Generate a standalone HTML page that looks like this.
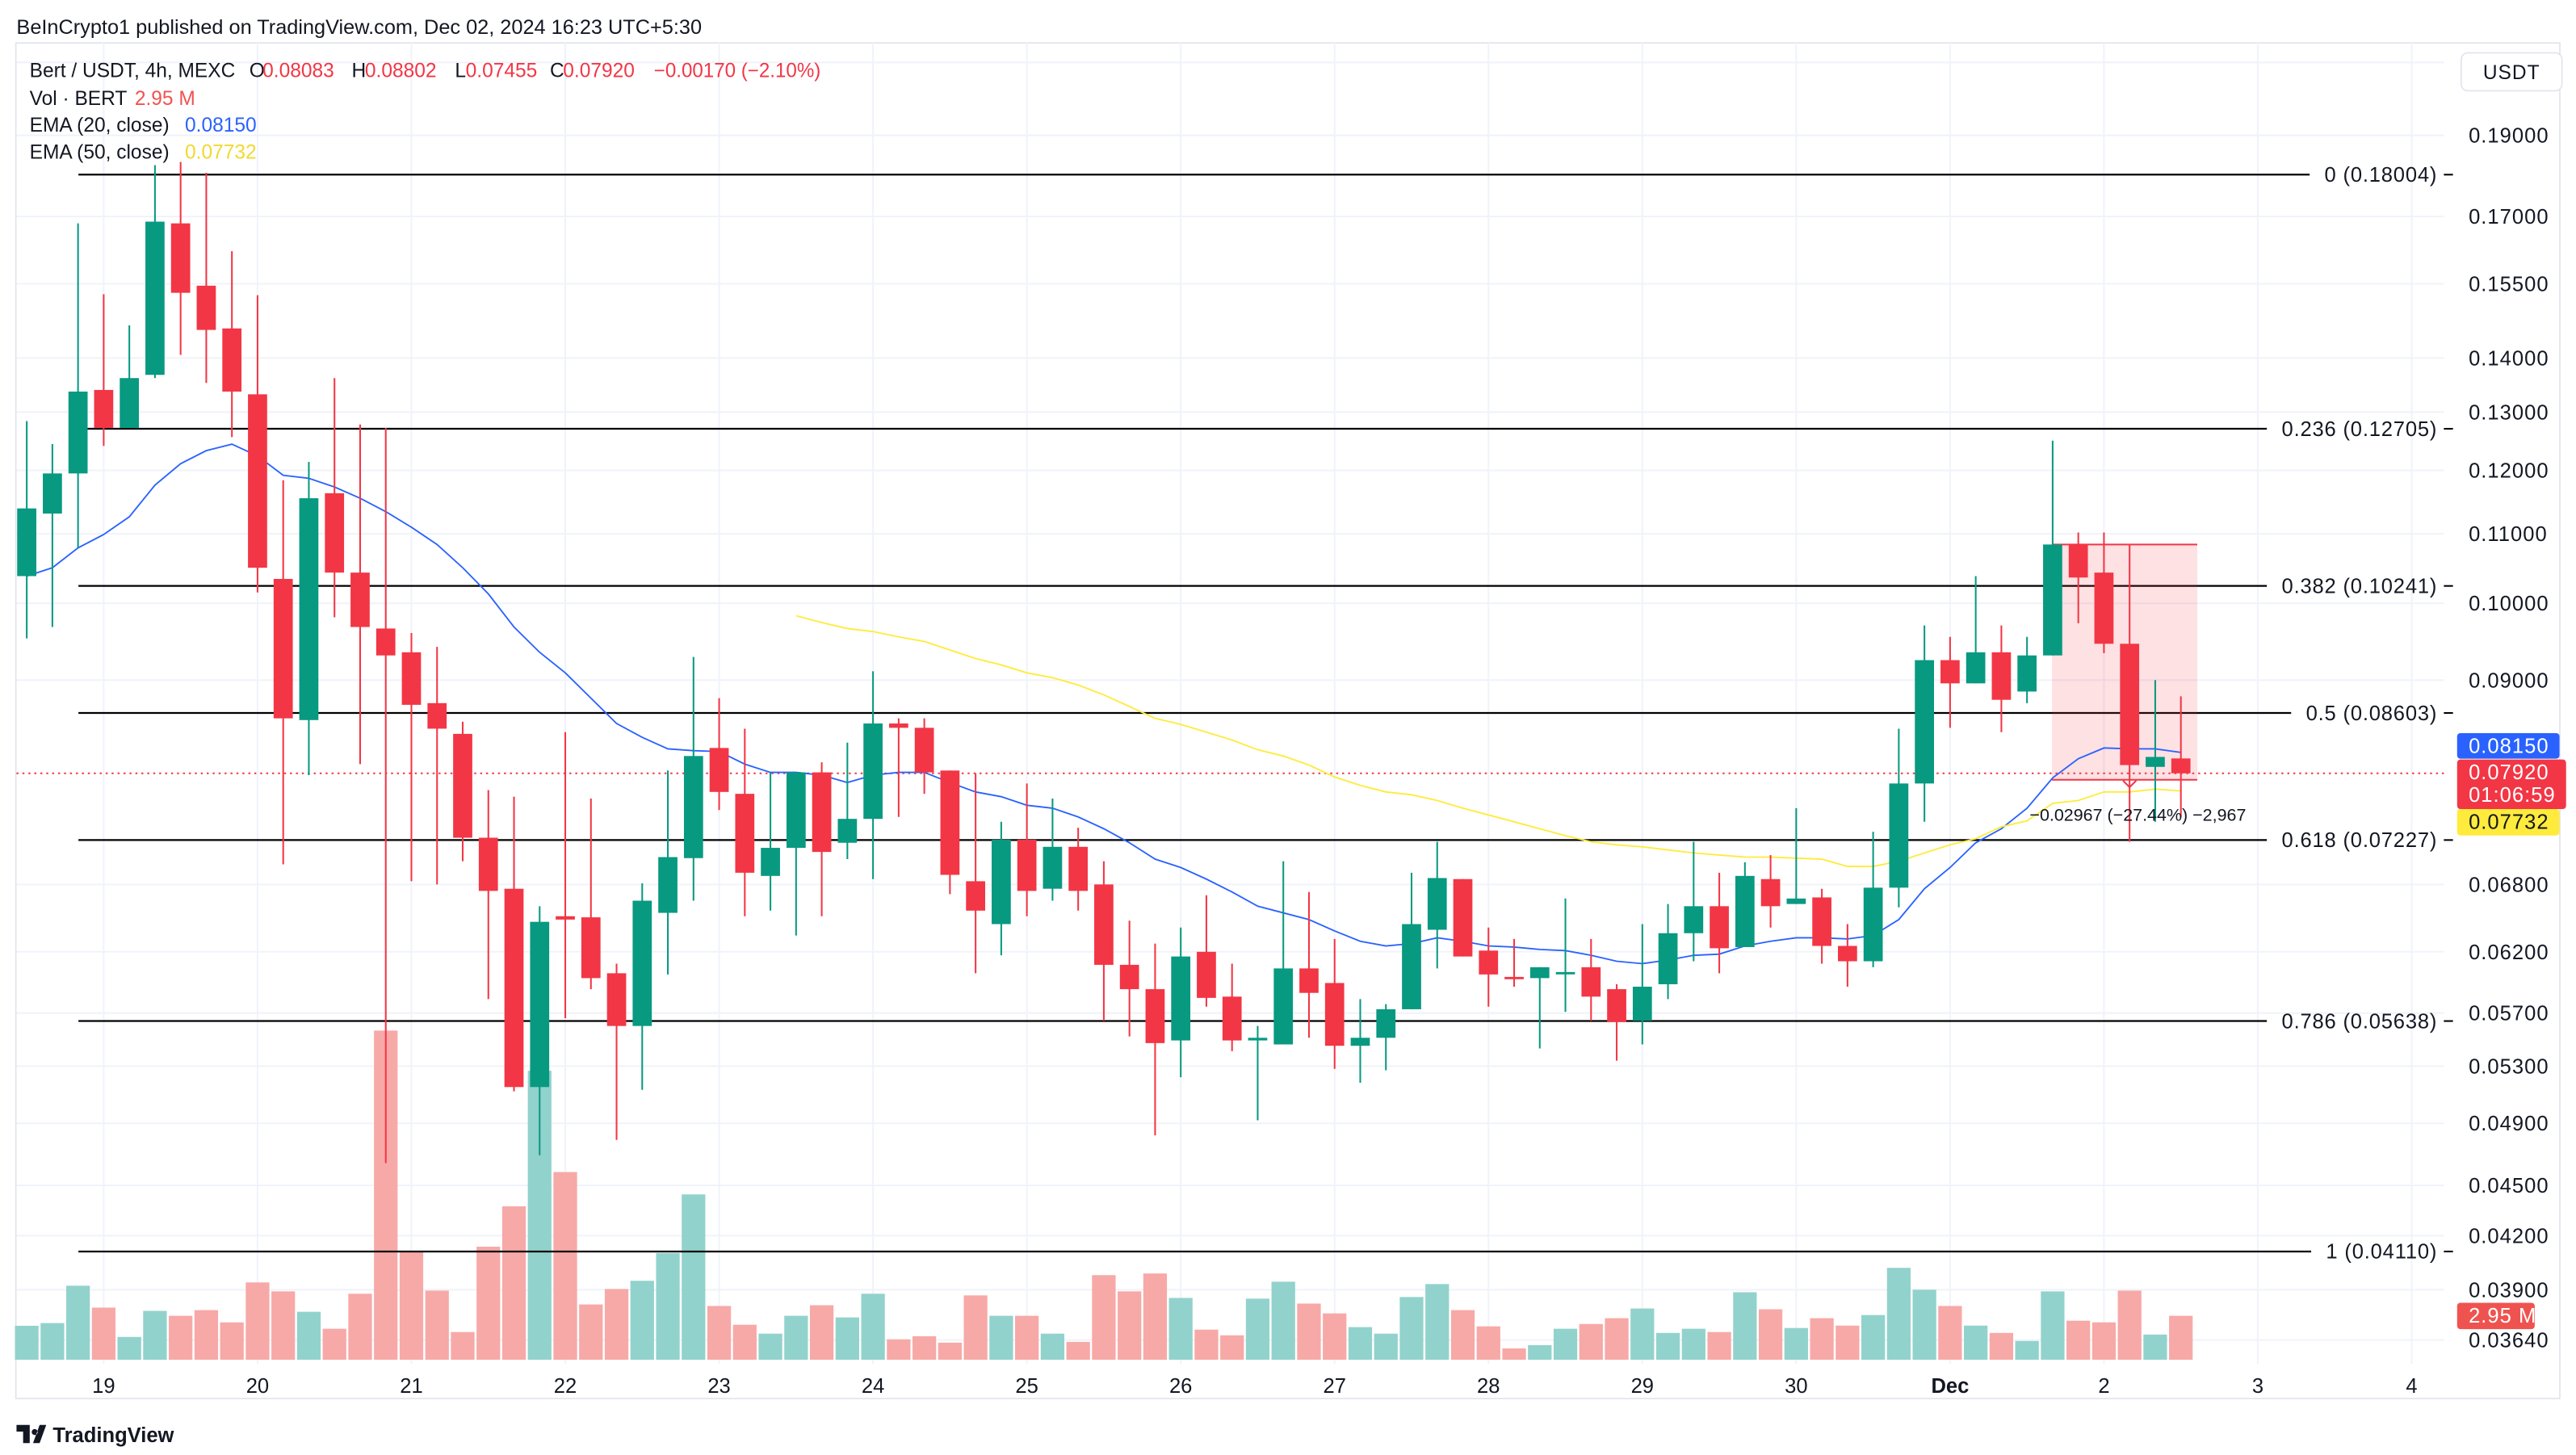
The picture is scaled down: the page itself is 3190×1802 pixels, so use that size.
<!DOCTYPE html>
<html><head><meta charset="utf-8"><title>Bert / USDT 4h</title>
<style>
html,body{margin:0;padding:0;background:#fff;}
#wrap{width:3190px;height:1802px;overflow:hidden;}
svg{display:block;font-family:"Liberation Sans",sans-serif;}
</style></head>
<body>
<div id="wrap">
<svg id="chart" width="3190" height="1802" viewBox="0 0 1560 881.2" preserveAspectRatio="none" xmlns="http://www.w3.org/2000/svg">
  <rect x="0" y="0" width="1560" height="881.2" fill="#ffffff"/>
  <text x="10" y="20.5" font-size="12" fill="#131722" textLength="415" lengthAdjust="spacingAndGlyphs">BeInCrypto1 published on TradingView.com, Dec 02, 2024 16:23 UTC+5:30</text>
  <rect x="9.6" y="26" width="1540.6" height="821" fill="none" stroke="#e0e3eb" stroke-width="0.8"/>
  <g id="grid"></g>
  <g id="vol"></g>
  <g id="fib"></g>
  <g id="pos"></g>
  <g id="ema"></g>
  <g id="candles"></g>
  <g id="axis"></g>
  <g id="legend">
    <text x="17.9" y="46.8" font-size="12" fill="#131722"><tspan>Bert / USDT, 4h, MEXC</tspan></text>
    <text x="151" y="46.8" font-size="12" fill="#131722">O</text><text x="159" y="46.8" font-size="12" fill="#f23645">0.08083</text>
    <text x="213" y="46.8" font-size="12" fill="#131722">H</text><text x="221" y="46.8" font-size="12" fill="#f23645">0.08802</text>
    <text x="275.5" y="46.8" font-size="12" fill="#131722">L</text><text x="282" y="46.8" font-size="12" fill="#f23645">0.07455</text>
    <text x="333" y="46.8" font-size="12" fill="#131722">C</text><text x="341" y="46.8" font-size="12" fill="#f23645">0.07920</text>
    <text x="396" y="46.8" font-size="12" fill="#f23645" textLength="101" lengthAdjust="spacingAndGlyphs">−0.00170 (−2.10%)</text>
    <text x="17.9" y="63.6" font-size="12" fill="#131722">Vol · BERT</text><text x="81.6" y="63.6" font-size="12" fill="#ef5350">2.95 M</text>
    <text x="17.9" y="79.6" font-size="12" fill="#131722">EMA (20, close)</text><text x="112" y="79.6" font-size="12" fill="#2962ff">0.08150</text>
    <text x="17.9" y="96.2" font-size="12" fill="#131722">EMA (50, close)</text><text x="112" y="96.2" font-size="12" fill="#f2d830">0.07732</text>
  </g>
  <g>
    <rect x="1490.5" y="32" width="61" height="23" rx="4" fill="#fff" stroke="#e0e3eb" stroke-width="0.8"/>
    <text x="1521" y="48" font-size="12" fill="#131722" text-anchor="middle" letter-spacing="0.5">USDT</text>
  </g>
  <g>
    <path d="M10 863 h8 v11 h-4 v-7 h-4 z M20 874 l4 -11 h4 l-4 11 z M21 865.5 a1.8 1.8 0 1 0 0.01 0" fill="#131722"/>
    <text x="32" y="873.5" font-size="12.5" font-weight="bold" fill="#131722">TradingView</text>
  </g>
</svg>
</div>
<script>
// ---- data ----
const opens = [0.1038,0.1131,0.1195,0.1340,0.1272,0.1368,0.1684,0.1546,0.1458,0.1332,
0.1034,0.0852,0.1163,0.1043,0.0966,0.0935,0.0872,0.0836,0.0725,0.0676,
0.0515,0.0651,0.0650,0.0602,0.0560,0.0654,0.0705,0.0820,0.0770,0.0688,
0.0715,0.0793,0.0720,0.0744,0.0848,0.0843,0.0795,0.0683,0.0644,0.0723,
0.0676,0.0716,0.0680,0.0609,0.0589,0.0549,0.0620,0.0583,0.0549,0.0546,
0.0606,0.0594,0.0545,0.0551,0.0573,0.0639,0.0685,0.0621,0.0599,0.0598,
0.0602,0.0607,0.0589,0.0564,0.0593,0.0636,0.0660,0.0624,0.0685,0.0662,
0.0668,0.0625,0.0612,0.0677,0.0781,0.0925,0.0896,0.0935,0.0886,0.0931,
0.1084,0.1043,0.0946,0.0799,0.08083];
const highs = [0.1284,0.1244,0.1684,0.1528,0.1464,0.1824,0.1832,0.1805,0.1621,0.1526,
0.1184,0.1214,0.1362,0.1278,0.1272,0.0960,0.0942,0.0850,0.0774,0.0767,
0.0660,0.0838,0.0765,0.0610,0.0681,0.0795,0.0929,0.0878,0.0842,0.0793,
0.0793,0.0804,0.0826,0.0911,0.0854,0.0854,0.0795,0.0792,0.0741,0.0781,
0.0765,0.0735,0.0702,0.0647,0.0627,0.0641,0.0670,0.0610,0.0560,0.0702,
0.0673,0.0631,0.0581,0.0577,0.0691,0.0721,0.0685,0.0641,0.0631,0.0607,
0.0667,0.0631,0.0593,0.0644,0.0662,0.0721,0.0691,0.0701,0.0708,0.0755,
0.0676,0.0644,0.0731,0.0842,0.0970,0.0955,0.1038,0.0970,0.0955,0.1250,
0.1102,0.1102,0.1084,0.0900,0.08802];
const lows = [0.0953,0.0968,0.1079,0.1241,0.1272,0.1362,0.1406,0.1353,0.1256,0.1015,
0.0699,0.0790,0.0981,0.0802,0.0464,0.0683,0.0680,0.0702,0.0581,0.0512,
0.0469,0.0566,0.0589,0.0479,0.0513,0.0601,0.0665,0.0753,0.0651,0.0656,
0.0634,0.0651,0.0704,0.0685,0.0746,0.0770,0.0671,0.0602,0.0617,0.0651,
0.0665,0.0656,0.0564,0.0552,0.0482,0.0522,0.0575,0.0541,0.0492,0.0546,
0.0551,0.0528,0.0518,0.0527,0.0573,0.0606,0.0616,0.0575,0.0591,0.0543,
0.0571,0.0564,0.0534,0.0546,0.0581,0.0612,0.0602,0.0624,0.0641,0.0662,
0.0610,0.0591,0.0607,0.0659,0.0741,0.0843,0.0896,0.0838,0.0872,0.0931,
0.0973,0.0934,0.0721,0.0741,0.07455];
const closes = [0.1139,0.1195,0.1337,0.1272,0.1362,0.1688,0.1531,0.1455,0.1337,0.1050,
0.0854,0.1155,0.1043,0.0968,0.0931,0.0870,0.0842,0.0725,0.0674,0.0515,
0.0646,0.0648,0.0598,0.0560,0.0665,0.0706,0.0811,0.0772,0.0691,0.0715,
0.0793,0.0711,0.0744,0.0848,0.0843,0.0793,0.0689,0.0656,0.0723,0.0674,
0.0716,0.0674,0.0609,0.0589,0.0547,0.0616,0.0582,0.0549,0.0551,0.0606,
0.0586,0.0545,0.0551,0.0573,0.0644,0.0686,0.0616,0.0601,0.0598,0.0607,
0.0603,0.0583,0.0563,0.0591,0.0636,0.0660,0.0623,0.0688,0.0660,0.0667,
0.0625,0.0612,0.0677,0.0781,0.0925,0.0896,0.0935,0.0876,0.0931,0.1084,
0.1036,0.0946,0.0801,0.0810,0.0792];
const volumes = [2.28,2.46,4.97,3.50,1.53,3.28,2.95,3.33,2.51,5.19,
4.59,3.22,2.08,4.43,22.1,7.27,4.64,1.86,7.59,10.3,
19.4,12.6,3.71,4.75,5.30,7.16,11.1,3.61,2.35,1.75,
2.95,3.66,2.84,4.43,1.37,1.58,1.15,4.32,2.95,2.95,
1.75,1.20,5.68,4.59,5.79,4.15,2.02,1.64,4.10,5.24,
3.77,3.11,2.19,1.75,4.21,5.08,3.33,2.24,0.76,0.98,
2.08,2.40,2.79,3.44,1.80,2.08,1.86,4.53,3.39,2.13,
2.79,2.29,3.00,6.17,4.70,3.61,2.29,1.80,1.26,4.59,
2.62,2.51,4.64,1.69,2.95];
const ema20 = [0.1038,0.1050,0.1079,0.1099,0.1126,0.1176,0.1211,0.1233,0.1244,0.1224,
0.1192,0.1187,0.1173,0.1155,0.1134,0.1110,0.1084,0.1050,0.1013,0.0968,
0.0935,0.0909,0.0878,0.0848,0.0832,0.0819,0.0817,0.0816,0.0802,0.0793,
0.0793,0.0790,0.0782,0.0790,0.0793,0.0793,0.0782,0.0772,0.0767,0.0758,
0.0755,0.0746,0.0734,0.0720,0.0704,0.0696,0.0685,0.0673,0.0660,0.0654,
0.0648,0.0638,0.0629,0.0625,0.0627,0.0632,0.0629,0.0625,0.0624,0.0622,
0.0621,0.0617,0.0612,0.0610,0.0613,0.0617,0.0618,0.0625,0.0629,0.0632,
0.0632,0.0631,0.0634,0.0648,0.0676,0.0696,0.0720,0.0734,0.0755,0.0787,
0.0808,0.0820,0.0819,0.0819,0.0815];
const ema50Start = 30;
const ema50 = [0.0983,0.0974,0.0966,0.0962,0.0955,0.0949,0.0938,0.0927,0.0919,0.0909,
0.0903,0.0894,0.0882,0.0868,0.0854,0.0847,0.0838,0.0829,0.0818,0.0811,
0.0801,0.0788,0.0779,0.0772,0.0769,0.0763,0.0755,0.0748,0.0741,0.0734,
0.0727,0.0721,0.0718,0.0716,0.0713,0.0710,0.0708,0.0706,0.0706,0.0705,
0.0704,0.0697,0.0697,0.0702,0.0710,0.0718,0.0724,0.0736,0.0742,0.0760,
0.0763,0.0772,0.0772,0.0775,0.0773];
const priceTicks = [0.19,0.17,0.155,0.14,0.13,0.12,0.11,0.10,0.09,0.068,0.062,0.057,0.053,0.049,0.045,0.042,0.039,0.0364];
const priceTickLabels = ["0.19000","0.17000","0.15500","0.14000","0.13000","0.12000","0.11000","0.10000","0.09000","0.06800","0.06200","0.05700","0.05300","0.04900","0.04500","0.04200","0.03900","0.03640"];
const fibRatios = ["0","0.236","0.382","0.5","0.618","0.786","1"];
const fibPrices = [0.18004,0.12705,0.10241,0.08603,0.07227,0.05638,0.04110];
const dayLabels = ["19","20","21","22","23","24","25","26","27","28","29","30","Dec","2","3","4"];
const dayFirstIndex = 3;
const barsPerDay = 6;
const lastPrice = 0.07920;
const tagEma20 = "0.08150", tagLast = "0.07920", tagEma50 = "0.07732", tagVol = "2.95 M";
const positionStartIdx = 79, positionEndIdx = 85;
const positionTop = 0.1084, positionBottom = 0.0785;

// ---- scales ----
const NS = "http://www.w3.org/2000/svg";
const yOf = p => 82 + Math.log(0.19 / p) * 441.5;
const xOf = i => 16.2 + i * 15.53;
const VOL_BASE = 823.5, VOL_PX = 9.02;
const vOf = v => VOL_BASE - v * VOL_PX;
const PLOT_L = 10, PLOT_R = 1480, PLOT_T = 26, PLOT_B = 826;
const UP = "#089981", DOWN = "#f23645";
function mk(tag, attrs, parent) {
  const e = document.createElementNS(NS, tag);
  for (const k in attrs) e.setAttribute(k, attrs[k]);
  parent.appendChild(e);
  return e;
}
const G = id => document.getElementById(id);

// grid
const grid = G("grid");
[0.21].concat(priceTicks).forEach(p => {
  const l = mk("line", {x1: PLOT_L, x2: PLOT_R, y1: yOf(p), y2: yOf(p), stroke: "#f0f3fa", "stroke-width": 1}, grid);
  
  
});
dayLabels.forEach((d, k) => {
  const x = xOf(dayFirstIndex + k * barsPerDay);
  const l = mk("line", {x1: x, x2: x, y1: PLOT_T, y2: PLOT_B, stroke: "#f0f3fa", "stroke-width": 1}, grid);
  
  
});

// volume
const vol = G("vol");
volumes.forEach((v, i) => {
  const up = closes[i] >= opens[i];
  const r = mk("rect", {x: xOf(i) - 7.15, y: vOf(v), width: 14.3, height: v * VOL_PX, fill: up ? "#92d2cc" : "#f7a9a7"}, vol);
  
  
});

// fib
const fib = G("fib");
fibPrices.forEach((p, k) => {
  const y = yOf(p);
  const line = mk("line", {x1: 47.5, x2: 1480, y1: y, y2: y, stroke: "#000", "stroke-width": 1.1}, fib);
  
  
  const t = mk("text", {x: 1476, y: y + 4.3, "font-size": 12.5, fill: "#131722", "text-anchor": "end", "letter-spacing": 0.4}, fib);
  t.textContent = fibRatios[k] + " (" + p.toFixed(5) + ")";
  
  
  const bb = t.getBBox();
  const bg = mk("rect", {x: bb.x - 9, y: y - 3, width: 1480 - (bb.x - 9), height: 6, fill: "#fff"}, fib);
  fib.insertBefore(bg, t);
  const tick = mk("line", {x1: 1480, x2: 1485.5, y1: y, y2: y, stroke: "#000", "stroke-width": 1}, fib);
  
  
});

// last price line
const pl = mk("line", {x1: PLOT_L, x2: PLOT_R, y1: yOf(lastPrice), y2: yOf(lastPrice), stroke: DOWN, "stroke-width": 1, "stroke-dasharray": "1.2 2.4"}, fib);



// short position tool
const pos = G("pos");
const px1 = xOf(positionStartIdx) - 0.4, px2 = xOf(positionEndIdx) - 5.6;
const box = mk("rect", {x: px1, y: yOf(positionTop), width: px2 - px1, height: yOf(positionBottom) - yOf(positionTop), fill: "rgba(242,54,69,0.15)"}, pos);


const pt = mk("line", {x1: px1, x2: px2, y1: yOf(positionTop), y2: yOf(positionTop), stroke: DOWN, "stroke-width": 1}, pos);


const pb = mk("line", {x1: px1, x2: px2, y1: yOf(positionBottom), y2: yOf(positionBottom), stroke: DOWN, "stroke-width": 1}, pos);



// EMAs
const ema = G("ema");
const e20 = mk("polyline", {points: ema20.map((v, i) => xOf(i) + "," + yOf(v)).join(" "), fill: "none", stroke: "#2962ff", "stroke-width": 0.9}, ema);


const e50 = mk("polyline", {points: ema50.map((v, i) => xOf(i + ema50Start) + "," + yOf(v)).join(" "), fill: "none", stroke: "#ffeb3b", "stroke-width": 0.9}, ema);



// candles
const cg = G("candles");
opens.forEach((o, i) => {
  const c = closes[i], up = c >= o, col = up ? UP : DOWN, x = xOf(i);
  const g = mk("g", {}, cg);
  
  
  mk("line", {x1: x, x2: x, y1: yOf(highs[i]), y2: yOf(lows[i]), stroke: col, "stroke-width": 1}, g);
  const top = Math.min(yOf(o), yOf(c));
  const h = Math.max(1.4, Math.abs(yOf(o) - yOf(c)));
  mk("rect", {x: x - 5.8, y: top, width: 11.6, height: h, fill: col}, g);
});

// position annotation
const arr = mk("path", {d: "M" + (xOf(82) - 4) + " " + (yOf(positionBottom) + 0.5) + " l4 4 l4 -4", fill: "none", stroke: DOWN, "stroke-width": 1}, pos.parentNode);


const ann = mk("text", {x: xOf(82) + 5, y: 497, "font-size": 10.5, fill: "#131722", "text-anchor": "middle"}, G("axis"));
ann.textContent = "−0.02967 (−27.44%) −2,967";



// axes
const axis = G("axis");
priceTicks.forEach((p, k) => {
  const t = mk("text", {x: 1495, y: yOf(p) + 4.4, "font-size": 12.5, fill: "#131722", "letter-spacing": 0.5}, axis);
  t.textContent = priceTickLabels[k];
  
  
});
dayLabels.forEach((d, k) => {
  const t = mk("text", {x: xOf(dayFirstIndex + k * barsPerDay), y: 843.5, "font-size": 12.5, fill: "#131722", "text-anchor": "middle", "font-weight": d === "Dec" ? "bold" : "normal"}, axis);
  t.textContent = d;
  
  
});

// price tags
function tag(name, y, h, bg, fg, lines, w) {
  const g = mk("g", {}, axis);
  
  
  mk("rect", {x: 1488, y: y, width: w, height: h, rx: 2, fill: bg}, g);
  lines.forEach((s, k) => {
    const t = mk("text", {x: 1495, y: y + 12 + k * 13.5, "font-size": 12.5, fill: fg, "letter-spacing": 0.5}, g);
    t.textContent = s;
  });
}
tag("ema20-price-tag", 444, 15.5, "#2962ff", "#fff", [tagEma20], 62);
tag("last-price-tag", 460, 30, DOWN, "#fff", [tagLast, "01:06:59"], 66);
tag("ema50-price-tag", 490, 16, "#ffeb3b", "#131722", [tagEma50], 62);
tag("volume-tag", 789, 16, "#ef5350", "#fff", [tagVol], 47);
</script>
</body></html>
